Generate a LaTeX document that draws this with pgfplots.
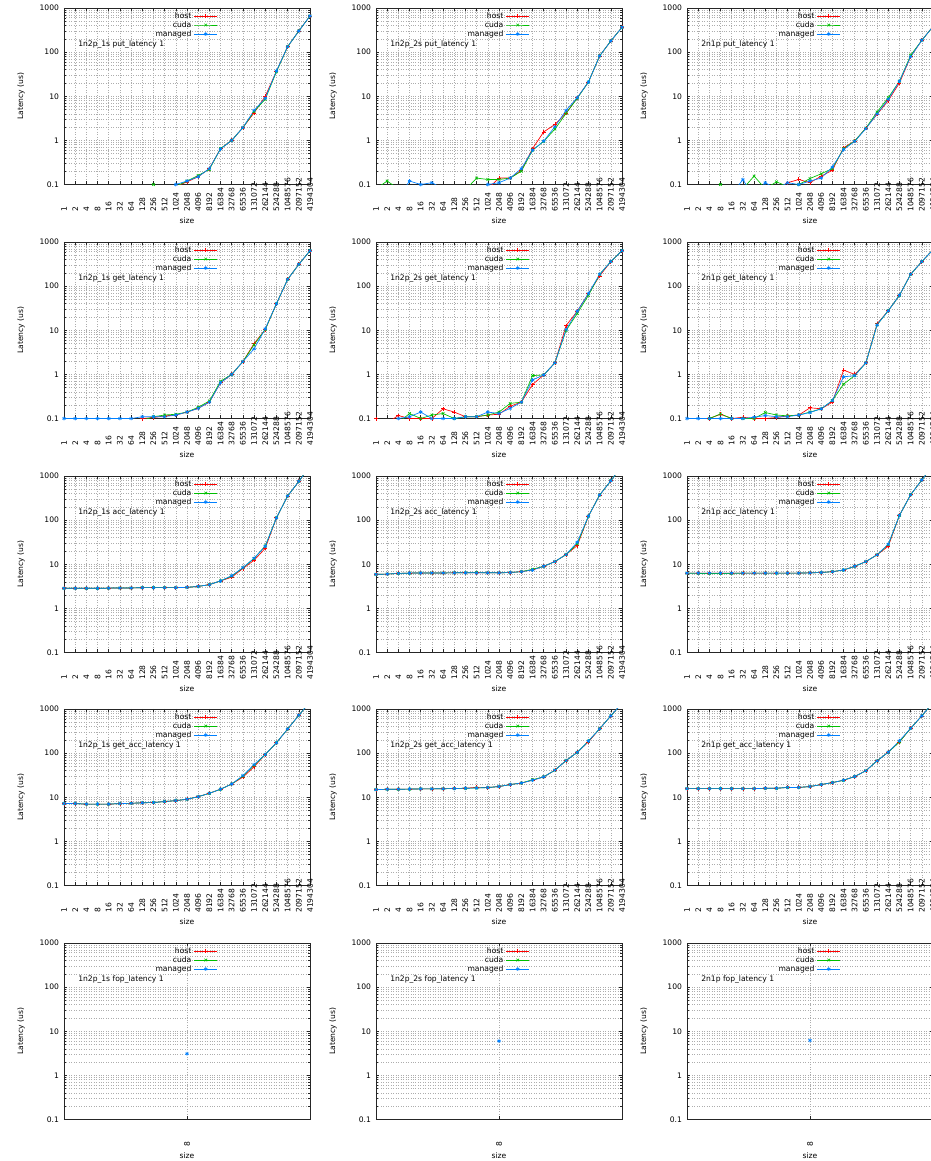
\documentclass[border=0pt]{standalone}
\usepackage{fontspec}
\setmainfont{DejaVu Sans}
\usepackage{pgfplots}
\usepackage{pgfplotstable}
\pgfplotsset{compat=1.18}
\newcommand\fs{\fontsize{5.7}{6.8}\selectfont}
\definecolor{chost}{HTML}{FF0000}
\definecolor{ccuda}{HTML}{00C000}
\definecolor{cman}{HTML}{0080FF}

\pgfplotstableread{
i h c m
0 0.08 0.08 0.08
1 0.08 0.08 0.08
2 0.08 0.08 0.08
3 0.08 0.08 0.08
4 0.08 0.08 0.08
5 0.08 0.08 0.08
6 0.08 0.08 0.08
7 0.08 0.08 0.08
8 0.08 0.10 0.08
9 0.08 0.08 0.08
10 0.09 0.09 0.10
11 0.115 0.12 0.12
12 0.15 0.16 0.15
13 0.23 0.22 0.23
14 0.65 0.65 0.64
15 1.0 1.0 1.0
16 1.95 1.95 1.95
17 4.2 4.5 4.8
18 10 8.6 9.0
19 37 36 37.5
20 133 133 133
21 301 301 301
22 660 660 660
}\tA
\pgfplotstableread{
i h c m
0 0.08 0.08 0.08
1 0.08 0.12 0.08
2 0.08 0.08 0.05
3 0.08 0.08 0.12
4 0.08 0.08 0.10
5 0.08 0.08 0.11
6 0.08 0.08 0.08
7 0.08 0.08 0.08
8 0.08 0.076 0.08
9 0.08 0.14 0.08
10 0.08 0.13 0.10
11 0.14 0.13 0.11
12 0.14 0.14 0.14
13 0.21 0.20 0.23
14 0.65 0.60 0.60
15 1.56 0.95 0.96
16 2.3 1.8 2.05
17 4.1 4.1 4.8
18 9.3 9.0 9.3
19 21 21 21
20 82 82 82
21 179 179 179
22 365 365 365
}\tB
\pgfplotstableread{
i h c m
0 0.08 0.08 0.08
1 0.08 0.08 0.08
2 0.08 0.08 0.08
3 0.08 0.10 0.08
4 0.08 0.08 0.06
5 0.08 0.08 0.13
6 0.08 0.155 0.05
7 0.08 0.08 0.11
8 0.08 0.115 0.08
9 0.11 0.09 0.11
10 0.13 0.10 0.10
11 0.11 0.137 0.12
12 0.155 0.175 0.14
13 0.21 0.23 0.25
14 0.68 0.65 0.62
15 0.97 0.97 0.95
16 1.9 1.9 1.85
17 3.9 4.4 4.0
18 8.0 9.3 8.5
19 20 22 22
20 79 85 79
21 185 185 185
22 380 380 380
}\tC
\pgfplotstableread{
i h c m
0 0.08 0.08 0.10
1 0.08 0.08 0.10
2 0.08 0.08 0.10
3 0.08 0.08 0.10
4 0.08 0.08 0.10
5 0.08 0.08 0.10
6 0.08 0.08 0.10
7 0.10 0.09 0.11
8 0.105 0.11 0.11
9 0.115 0.12 0.11
10 0.12 0.125 0.12
11 0.14 0.14 0.14
12 0.17 0.18 0.17
13 0.235 0.25 0.235
14 0.65 0.70 0.65
15 1.0 1.0 1.0
16 1.95 1.95 1.95
17 5.0 4.7 3.8
18 10.4 10.4 10.8
19 40 40 40
20 142 142 142
21 311 311 311
22 636 636 636
}\tD
\pgfplotstableread{
i h c m
0 0.10 0.08 0.08
1 0.08 0.08 0.08
2 0.117 0.08 0.10
3 0.10 0.13 0.11
4 0.10 0.10 0.14
5 0.10 0.12 0.10
6 0.166 0.13 0.10
7 0.14 0.10 0.10
8 0.11 0.11 0.11
9 0.11 0.11 0.11
10 0.12 0.12 0.14
11 0.125 0.14 0.13
12 0.19 0.22 0.17
13 0.235 0.235 0.235
14 0.59 0.94 0.75
15 0.97 0.97 0.97
16 1.83 1.83 1.83
17 12.8 9.9 10.4
18 27 24 27
19 68 62 68
20 170 185 185
21 360 360 360
22 636 636 636
}\tE
\pgfplotstableread{
i h c m
0 0.08 0.08 0.10
1 0.08 0.08 0.10
2 0.10 0.10 0.10
3 0.125 0.127 0.10
4 0.10 0.10 0.10
5 0.107 0.10 0.10
6 0.10 0.10 0.107
7 0.10 0.137 0.117
8 0.105 0.12 0.11
9 0.115 0.115 0.11
10 0.12 0.12 0.12
11 0.175 0.14 0.137
12 0.166 0.166 0.166
13 0.235 0.255 0.255
14 1.25 0.60 0.88
15 1.0 0.94 0.94
16 1.83 1.83 1.83
17 14 13.3 13.3
18 27.7 27.7 27.7
19 62 62 62
20 185 185 185
21 360 360 360
22 670 670 670
}\tF
\pgfplotstableread{
i h c m
0 2.85 2.85 2.85
1 2.85 2.85 2.85
2 2.85 2.85 2.85
3 2.85 2.85 2.85
4 2.88 2.88 2.88
5 2.9 2.9 2.9
6 2.9 2.9 2.9
7 2.95 2.95 2.95
8 2.95 2.95 2.95
9 2.95 2.95 2.95
10 2.95 2.95 2.95
11 3.0 3.0 3.0
12 3.15 3.15 3.15
13 3.45 3.45 3.45
14 4.2 4.2 4.2
15 5.1 5.4 5.5
16 8.0 8.3 8.4
17 12.3 13.5 13.7
18 23 26 25.6
19 113 113 113
20 351 351 351
21 756 756 756
22 1700 1700 1700
}\tG
\pgfplotstableread{
i h c m
0 5.9 5.9 5.9
1 6.0 6.0 6.0
2 6.2 6.2 6.2
3 6.3 6.3 6.3
4 6.35 6.35 6.35
5 6.35 6.35 6.35
6 6.35 6.35 6.35
7 6.4 6.4 6.4
8 6.4 6.4 6.4
9 6.4 6.5 6.4
10 6.4 6.4 6.4
11 6.4 6.4 6.4
12 6.5 6.5 6.5
13 6.8 6.8 6.8
14 7.5 7.7 7.4
15 9.0 9.0 9.0
16 11.5 11.5 11.5
17 16.6 16.6 16.6
18 26.5 29 31.6
19 123 123 123
20 370 370 370
21 780 780 780
22 1700 1700 1700
}\tH
\pgfplotstableread{
i h c m
0 6.3 6.3 6.3
1 6.3 6.2 6.3
2 6.3 6.2 6.3
3 6.3 6.2 6.3
4 6.3 6.2 6.3
5 6.3 6.3 6.3
6 6.3 6.3 6.3
7 6.3 6.3 6.3
8 6.3 6.3 6.3
9 6.3 6.3 6.3
10 6.3 6.3 6.3
11 6.4 6.4 6.4
12 6.5 6.5 6.5
13 6.8 6.8 6.8
14 7.4 7.4 7.4
15 9.0 9.0 9.0
16 11.5 11.5 11.5
17 16.4 16.4 16.4
18 25.6 28 28.5
19 128 128 128
20 376 376 376
21 812 812 812
22 1750 1750 1750
}\tI
\pgfplotstableread{
i h c m
0 7.2 7.2 7.2
1 7.2 7.2 7.2
2 7.0 7.0 7.0
3 7.0 7.0 7.0
4 7.0 7.0 7.0
5 7.2 7.2 7.2
6 7.3 7.3 7.3
7 7.5 7.5 7.5
8 7.6 7.6 7.6
9 8.0 8.0 8.0
10 8.4 8.4 8.4
11 9.0 9.0 9.0
12 10.3 10.3 10.3
13 12.3 12.3 12.3
14 15.2 15.2 15.2
15 20 20 20
16 28.5 30 31
17 49 53 55
18 93 93 93
19 172 172 172
20 351 351 351
21 720 720 720
22 1450 1450 1450
}\tJ
\pgfplotstableread{
i h c m
0 14.9 14.9 14.9
1 15.2 15.2 15.2
2 15.2 15.2 15.2
3 15.3 15.3 15.3
4 15.5 15.5 15.5
5 15.5 15.5 15.5
6 15.6 15.6 15.6
7 15.8 15.8 15.8
8 16.0 16.0 16.0
9 16.8 16.2 16.2
10 16.6 16.6 16.6
11 17.5 17.5 17.5
12 19.4 19.4 19.4
13 21 21 21
14 24.3 25 24.3
15 29 29 29
16 41 41 41
17 68 68 68
18 104 104 104
19 180 188 188
20 356 356 356
21 700 700 700
22 1350 1350 1350
}\tK
\pgfplotstableread{
i h c m
0 15.7 15.7 15.7
1 15.7 15.7 15.7
2 15.7 15.7 15.7
3 15.7 15.7 15.7
4 15.7 15.7 15.7
5 15.7 15.7 15.7
6 15.7 15.7 15.7
7 16.0 16.0 16.0
8 16.0 16.0 16.0
9 16.7 16.7 16.7
10 16.7 16.7 16.7
11 17.5 17.5 17.5
12 19.4 19.4 19.4
13 21.5 21.5 21.5
14 24.3 24.3 24.3
15 29.5 29.5 29.5
16 40 40 40
17 67 67 67
18 105 105 105
19 180 180 191
20 364 364 364
21 700 700 700
22 1400 1400 1400
}\tL

\pgfplotsset{
  hostst/.style={color=chost, line width=0.5pt, mark=+, mark size=1.5pt},
  cudast/.style={color=ccuda, line width=0.5pt, mark=x, mark size=1.4pt},
  manst/.style={color=cman, line width=0.5pt, mark=asterisk, mark size=1.4pt},
}
\newcommand\ttl[1]{\node[anchor=west, font=\fs, inner sep=0pt] at (axis description cs:0.057,0.795) {#1};}
% #1 x, #2 y, #3 xmin, #4 xmax, #5 xtick, #6 xticklabels
\newcommand\beginax[6]{%
\begin{axis}[
    at={(#1,#2)}, anchor=north west,
    scale only axis, width=184.5pt, height=132.4pt,
    ymode=log, ymin=0.1, ymax=1000,
    xmin=#3, xmax=#4, xtick={#5}, xticklabels={#6},
    ytick={0.1,1,10,100,1000}, yticklabels={0.1,1,10,100,1000},
    minor ytick={0.2,0.3,0.4,0.5,0.6,0.7,0.8,0.9,2,3,4,5,6,7,8,9,20,30,40,50,60,70,80,90,200,300,400,500,600,700,800,900},
    grid=both,
    major grid style={black!32, dash pattern=on 0.75pt off 1.1pt, line width=0.45pt},
    minor grid style={black!32, dash pattern=on 0.75pt off 1.1pt, line width=0.45pt},
    tick align=inside, major tick length=2.4pt, minor tick length=1.2pt,
    tick style={black!85, line width=0.4pt},
    axis line style={black!85, line width=0.5pt},
    tick label style={font=\fs},
    xticklabel style={rotate=90, anchor=west, inner sep=0pt, xshift=-20.6pt},
    yticklabel style={inner sep=0pt, xshift=-3.6pt},
    xlabel={size}, ylabel={Latency (us)},
    xlabel style={at={(axis description cs:0.5,-0.205)}, anchor=center, font=\fs},
    ylabel style={at={(axis description cs:-0.175,0.5)}, anchor=center, font=\fs},
    legend style={draw=none, fill=none, at={(axis description cs:0.625,0.978)}, anchor=north east,
      font=\fs, row sep=1.1pt, inner sep=0pt,
      nodes={inner xsep=2pt, inner ysep=0pt, text height=4.5pt, text depth=1.2pt}},
    legend cell align=right, legend plot pos=right,
]}
\newcommand{\panel}[4]{%
\beginax{#2}{#3}{0}{22}{0,...,22}{1,2,4,8,16,32,64,128,256,512,1024,2048,4096,8192,16384,32768,65536,131072,262144,524288,1048576,2097152,4194304}
\addplot[hostst] table[x=i,y=h]{#1};
\addplot[cudast] table[x=i,y=c]{#1};
\addplot[manst] table[x=i,y=m]{#1};
\legend{host,cuda,managed}
\ttl{#4}
\end{axis}}
\newcommand{\fpanel}[4]{%
\beginax{#1}{#2}{2}{4}{3}{8}
\addlegendimage{hostst}
\addlegendimage{cudast}
\addplot[manst] coordinates {(3,#3)};
\legend{host,cuda,managed}
\ttl{#4}
\end{axis}}

\begin{document}
\begin{tikzpicture}
\useasboundingbox (0,0) rectangle (698.25pt,870.75pt);
\clip (0,0) rectangle (698.25pt,870.75pt);
\panel{\tA}{48pt}{864.75pt}{1n2p\_1s put\_latency 1}
\panel{\tB}{282pt}{864.75pt}{1n2p\_2s put\_latency 1}
\panel{\tC}{515.25pt}{864.75pt}{2n1p put\_latency 1}
\panel{\tD}{48pt}{689.25pt}{1n2p\_1s get\_latency 1}
\panel{\tE}{282pt}{689.25pt}{1n2p\_2s get\_latency 1}
\panel{\tF}{515.25pt}{689.25pt}{2n1p get\_latency 1}
\panel{\tG}{48pt}{513.75pt}{1n2p\_1s acc\_latency 1}
\panel{\tH}{282pt}{513.75pt}{1n2p\_2s acc\_latency 1}
\panel{\tI}{515.25pt}{513.75pt}{2n1p acc\_latency 1}
\panel{\tJ}{48pt}{339pt}{1n2p\_1s get\_acc\_latency 1}
\panel{\tK}{282pt}{339pt}{1n2p\_2s get\_acc\_latency 1}
\panel{\tL}{515.25pt}{339pt}{2n1p get\_acc\_latency 1}
\fpanel{48pt}{163.5pt}{3.1}{1n2p\_1s fop\_latency 1}
\fpanel{282pt}{163.5pt}{6.0}{1n2p\_2s fop\_latency 1}
\fpanel{515.25pt}{163.5pt}{6.2}{2n1p fop\_latency 1}
\end{tikzpicture}
\end{document}
